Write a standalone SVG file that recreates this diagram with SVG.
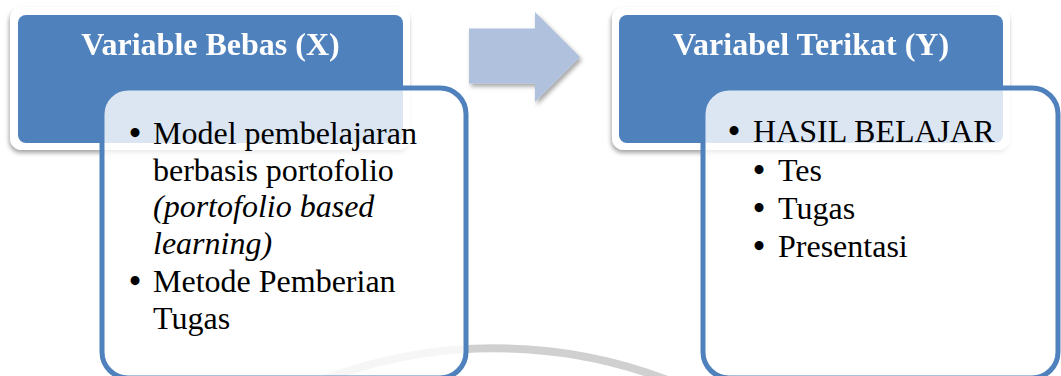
<svg xmlns="http://www.w3.org/2000/svg" width="1061" height="376" viewBox="0 0 1061 376">
  <defs>
    <filter id="shadow" x="-10%" y="-10%" width="120%" height="130%">
      <feDropShadow dx="-1" dy="3" stdDeviation="2" flood-color="#000" flood-opacity="0.35"/>
    </filter>
    <filter id="arrowShadow" x="-10%" y="-10%" width="130%" height="130%">
      <feDropShadow dx="2" dy="3" stdDeviation="2" flood-color="#000" flood-opacity="0.35"/>
    </filter>
  </defs>
  <style>
    .hdr-outer { fill: #ffffff; }
    .hdr-inner { fill: #4F81BD; }
    .hdr-text { font-family: "Liberation Serif", "Times New Roman", serif; font-weight: bold; font-size: 32px; fill: #ffffff; text-anchor: middle; }
    .box { fill: #ffffff; fill-opacity: 0.8; stroke: #4F81BD; stroke-width: 5; }
    .body { font-family: "Liberation Serif", "Times New Roman", serif; font-size: 32px; fill: #000000; }
    .it { font-style: italic; }
    .bullet { font-family: "Liberation Serif", "Times New Roman", serif; font-size: 33px; font-weight: bold; fill: #000000; text-anchor: middle; }
    .arc { fill: none; stroke: #d0d0d0; stroke-width: 8; }
  </style>
  <rect width="1061" height="376" fill="#ffffff"/>

  <path class="arc" d="M 310 385 A 485 485 0 0 1 680 385"/>

  <g id="header-x" filter="url(#shadow)">
    <rect class="hdr-outer" x="10" y="7" width="400" height="143" rx="12"/>
    <rect class="hdr-inner" x="18" y="15" width="385" height="128" rx="8"/>
    <text class="hdr-text" x="210.5" y="55">Variable Bebas (X)</text>
  </g>

  <g id="header-y" filter="url(#shadow)">
    <rect class="hdr-outer" x="612" y="7" width="398" height="143" rx="12"/>
    <rect class="hdr-inner" x="619" y="15" width="384" height="128" rx="8"/>
    <text class="hdr-text" x="811" y="55">Variabel Terikat (Y)</text>
  </g>

  <g id="connectors">
    <path filter="url(#arrowShadow)" fill="#B0C1DE" d="M 469 28.5 L 535 28.5 L 535 12 L 580 57 L 535 102 L 535 83.5 L 469 83.5 Z"/>
  </g>

  <g id="box-x">
    <rect class="box" x="102" y="88" width="364" height="290" rx="26"/>
    <text class="bullet" x="135" y="144">•</text>
    <text class="body" x="153" y="144">Model pembelajaran</text>
    <text class="body" x="153" y="181">berbasis portofolio</text>
    <text class="body it" x="153" y="217">(portofolio based</text>
    <text class="body it" x="153" y="254">learning)</text>
    <text class="bullet" x="135" y="292">•</text>
    <text class="body" x="153" y="292">Metode Pemberian</text>
    <text class="body" x="153" y="329">Tugas</text>
  </g>

  <g id="box-y">
    <rect class="box" x="703" y="88" width="355" height="290" rx="26"/>
    <text class="bullet" x="734" y="142">•</text>
    <text class="body" x="753" y="142">HASIL BELAJAR</text>
    <text class="bullet" x="759" y="181">•</text>
    <text class="body" x="778" y="181">Tes</text>
    <text class="bullet" x="759" y="219">•</text>
    <text class="body" x="778" y="219">Tugas</text>
    <text class="bullet" x="759" y="257">•</text>
    <text class="body" x="778" y="257">Presentasi</text>
  </g>
</svg>
